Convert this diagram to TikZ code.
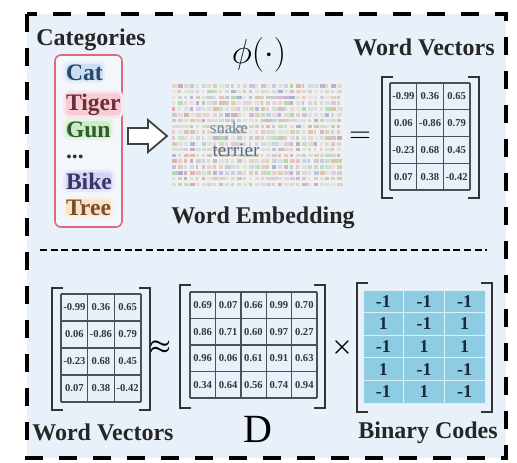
\documentclass[tikz,border=0pt]{standalone}
\usepackage{fontspec}
\setmainfont{Liberation Serif}
\usetikzlibrary{calc}

\definecolor{panelbg}{RGB}{232,241,250}
\definecolor{catred}{RGB}{222,104,124}
\definecolor{catc}{RGB}{80,140,215}
\definecolor{tigerc}{RGB}{225,90,112}
\definecolor{gunc}{RGB}{95,185,80}
\definecolor{bikec}{RGB}{115,105,210}
\definecolor{treec}{RGB}{238,160,80}
\definecolor{numgray}{RGB}{48,54,60}
\definecolor{gridgray}{RGB}{74,82,88}
\definecolor{codeblue}{RGB}{142,204,228}
\definecolor{codetext}{RGB}{26,40,56}
\definecolor{cloudtext}{RGB}{86,108,136}

% cell values of a table, rows given as {a,b,c},{d,e,f},...
\newcommand{\numgrid}[7]{%
    \foreach \row [count=\r] in {#7} {
        \foreach \val [count=\c] in \row {
            \node[#6] (#1-\r-\c) at ({#2+(\c-0.5)*#4}, {#3+(\r-0.5)*#5}) {\val};
        }
    }
}
% grid lines of a table: x0, y0, columns, rows, cell width, cell height, style
\newcommand{\gridlines}[7]{%
    \foreach \c in {0,...,#3}
        \draw[#7] ({#1+\c*#5}, #2) -- ({#1+\c*#5}, {#2+#4*#6});
    \foreach \r in {0,...,#4}
        \draw[#7] (#1, {#2+\r*#6}) -- ({#1+#3*#5}, {#2+\r*#6});
}
% square brackets round a matrix
\newcommand{\matbrackets}[4]{%
    \draw[bracketline] ({#1+11}, #2) -- (#1, #2) -- (#1, #4) -- ({#1+11}, #4);
    \draw[bracketline] ({#3-11}, #2) -- (#3, #2) -- (#3, #4) -- ({#3-11}, #4);
}

\begin{document}
\begin{tikzpicture}[x=0.5pt, y=-0.5pt,
        title/.style={font=\fontsize{12}{14}\selectfont\bfseries, text=black!85, inner sep=0pt},
        catword/.style={font=\fontsize{11.8}{13}\selectfont\bfseries, anchor=base west,
            inner sep=0.8pt, rounded corners=2.5pt, line width=1.4pt},
        cellnum/.style={font=\fontsize{5.3}{6}\selectfont\bfseries, text=numgray, inner sep=0pt},
        codenum/.style={font=\fontsize{9}{11}\selectfont\bfseries, text=codetext, inner sep=0pt},
        gridline/.style={draw=gridgray, line width=0.7pt},
        codeline/.style={draw=white!70!codeblue, line width=0.4pt},
        bracketline/.style={draw=black!80, line width=1.2pt},
        catframe/.style={draw=catred, line width=0.8pt, rounded corners=3pt, fill=white!45!panelbg}
    ]

    \useasboundingbox (0,0) rectangle (517,462);

    % Panel and its dashed frame
    \fill[panelbg] (27,14) rectangle (506,458);
    \draw[line width=2.2pt, dash pattern=on 9pt off 8pt] (27,14) rectangle (506,458);

    % Separator between the two halves
    \draw[line width=0.7pt, dash pattern=on 3.5pt off 1.8pt] (40,250) -- (487,250);

    % ---------- upper half ----------
    \node[title, anchor=base west] (cattitle) at (36,45) {Categories};
    \draw[catframe] (55,55) rectangle (122,227);

    % Category words on a soft coloured patch
    \foreach \name/\word/\col/\y in {cat/Cat/catc/80, tiger/Tiger/tigerc/110,
                                     gun/Gun/gunc/137, bike/Bike/bikec/189, tree/Tree/treec/215}
        \node[catword, text=\col!50!black, fill=\col!30, draw=\col!15] (\name) at (63,\y) {\word};
    \node[catword, text=black!80] (dots) at (63,158) {...};

    % Hollow block arrow
    \draw[line width=0.9pt, draw=black!75, fill=white, line join=miter]
        (128,128) -- (148,128) -- (148,120) -- (167,136) -- (148,152) -- (148,144) -- (128,144) -- cycle;

    % Word cloud
    \fill[gray!12!white] (172,82) rectangle (345,188);
    \pgfmathsetseed{12}
    \pgfmathdeclarerandomlist{cloudcols}{{red!45!gray}{green!45!gray}{blue!45!gray}{violet!40!gray}{orange!50!gray}{gray}{cyan!40!gray}{olive!40!gray}}
    \foreach \i in {0,...,28}
        \foreach \j in {0,...,17} {
            \pgfmathrandomitem{\cc}{cloudcols}
            \pgfmathsetmacro{\op}{0.1+0.3*rnd}
            \pgfmathsetmacro{\wd}{2.5+3.5*rnd}
            \fill[\cc, opacity=\op] ({172+\i*5.9}, {84+\j*5.8}) rectangle +(\wd,3.6);
        }
    \node[font=\fontsize{8.3}{9}\selectfont, text=cloudtext!85, inner sep=0pt] (snake) at (229,128) {snake};
    \node[font=\fontsize{9.6}{11}\selectfont, text=cloudtext, inner sep=0pt] (terrier) at (236,150) {terrier};

    \node[font=\LARGE, inner sep=0pt] (phi) at (259,55) {$\phi(\cdot)$};
    \node[title, anchor=base] (embtitle) at (263,223) {Word Embedding};
    \node[font=\Large, inner sep=0pt] (eq) at (360,137) {$=$};

    % Word vectors
    \node[title, anchor=base] (wvtitle) at (424,55) {Word Vectors};
    \gridlines{390}{83}{3}{4}{26.67}{26.75}{gridline}
    \numgrid{wvtop}{390}{83}{26.67}{26.75}{cellnum}{{-0.99,0.36,0.65},{0.06,-0.86,0.79},{-0.23,0.68,0.45},{0.07,0.38,-0.42}}
    \matbrackets{382}{77}{479}{198}

    % ---------- lower half ----------
    \gridlines{61}{294}{3}{4}{26.67}{27}{gridline}
    \numgrid{wvbot}{61}{294}{26.67}{27}{cellnum}{{-0.99,0.36,0.65},{0.06,-0.86,0.79},{-0.23,0.68,0.45},{0.07,0.38,-0.42}}
    \matbrackets{52}{288}{150}{410}
    \node[title, anchor=base west] (wvlabel) at (32,440) {Word Vectors};

    \node[font=\large\boldmath, inner sep=0pt] (approx) at (160,347) {$\approx$};

    % Dictionary D
    \gridlines{190}{292}{5}{4}{25.4}{26.5}{gridline}
    \numgrid{dict}{190}{292}{25.4}{26.5}{cellnum}{{0.69,0.07,0.66,0.99,0.70},{0.86,0.71,0.60,0.97,0.27},{0.96,0.06,0.61,0.91,0.63},{0.34,0.64,0.56,0.74,0.94}}
    \matbrackets{180}{285}{325}{408}
    \node[font=\fontsize{20}{22}\selectfont, anchor=base, inner sep=0pt] (dlabel) at (258,442) {D};

    \node[font=\large\boldmath, inner sep=0pt] (times) at (342,347) {$\times$};

    % Binary codes
    \fill[codeblue] (363,290) rectangle (485,403);
    \gridlines{363}{290}{3}{5}{40.67}{22.6}{codeline}
    \numgrid{code}{363}{290}{40.67}{22.6}{codenum}{{-1,-1,-1},{1,-1,1},{-1,1,1},{1,-1,-1},{-1,1,-1}}
    \matbrackets{357}{283}{492}{412}
    \node[title, anchor=base] (bclabel) at (428,438) {Binary Codes};

\end{tikzpicture}
\end{document}
